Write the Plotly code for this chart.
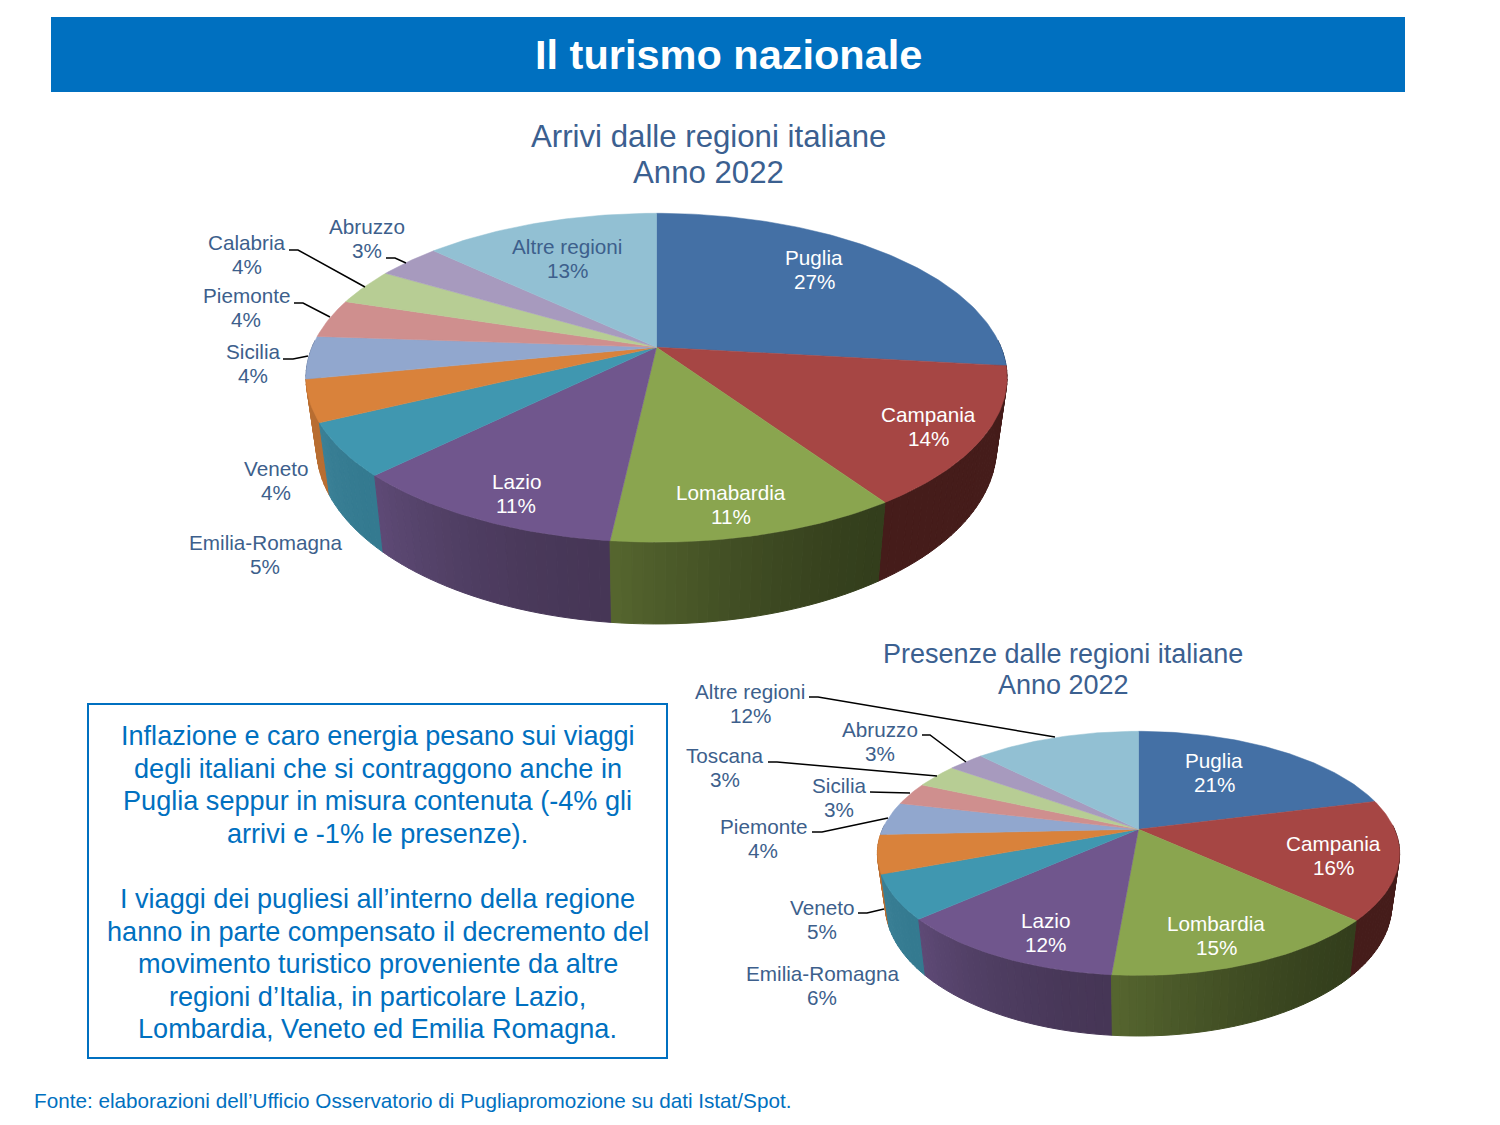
import math
import plotly.graph_objects as go

# ---------- data ----------
arrivi_regions = ["Puglia", "Campania", "Lomabardia", "Lazio", "Emilia-Romagna", "Veneto",
                  "Sicilia", "Piemonte", "Calabria", "Abruzzo", "Altre regioni"]
arrivi_values = [26.8, 13.7, 11.25, 10.85, 5.2, 4.1, 4.2, 3.8, 3.6, 3.49, 13.0]

presenze_regions = ["Puglia", "Campania", "Lombardia", "Lazio", "Emilia-Romagna", "Veneto",
                    "Piemonte", "Sicilia", "Toscana", "Abruzzo", "Altre regioni"]
presenze_values = [21.0, 15.8, 14.55, 12.05, 5.8, 5.1, 4.4, 3.0, 3.2, 2.7, 12.4]

# ---------- styles ----------
TOP_COLORS = ["#4470A5", "#A64644", "#8AA54F", "#70568D", "#4097B0", "#D9823B",
              "#91A7CE", "#CF8F8E", "#B7CD94", "#A79ABE", "#92C0D3"]
SIDE_START = ["#2A4568", "#451C1A", "#333E1C", "#463656", "#347A90", "#B86D31",
              "#6F80A0", "#A06E6E", "#8C9E70", "#807590", "#70949F"]
SIDE_END = ["#2A4568", "#451C1A", "#56662F", "#5E4A76", "#3A8096", "#BC7033",
            "#6F80A0", "#A06E6E", "#8C9E70", "#807590", "#70949F"]
BLUE = "#0070C0"
TITLE_BLUE = "#3B6090"
LABEL_BLUE = "#3D5F8C"
FONT = "Liberation Sans"

# ---------- view geometry of the tilted discs ----------
BASE_X, BASE_Y = 0.97, 1.076
ARRIVI_VIEW = dict(cx=656.5, cy=347.3, a=344.5, b=158.8, k=0.185, off=67.0)
PRESENZE_VIEW = dict(cx=1138.5, cy=829.3, a=256.0, b=117.3, k=0.197, off=49.5)

# label centres (name line), in page pixels
ARRIVI_LABELS = [(814, 257), (928, 414), (731, 492), (516, 481), (265, 542), (276, 468),
                 (253, 351), (246, 295), (247, 242), (367, 226), (567, 246)]
PRESENZE_LABELS = [(1214, 760), (1333, 843), (1216, 923), (1045, 920), (822, 973), (822, 907),
                   (763, 826), (839, 785), (725, 755), (880, 729), (750, 691)]
LABEL_STEP = 24
WHITE_LABELS = {"Puglia", "Campania", "Lomabardia", "Lombardia", "Lazio"}

LEADERS = [
    [(289, 250), (298, 250), (365, 287)],
    [(386, 258), (395, 258), (406, 263)],
    [(294, 303), (303, 303), (330, 317)],
    [(283, 359), (293, 359), (308, 356)],
    [(809, 697), (818, 697), (1055, 737)],
    [(922, 735), (930, 735), (966, 762)],
    [(768, 762), (777, 762), (937, 776)],
    [(870, 792), (910, 793)],
    [(812, 832), (822, 832), (888, 818)],
    [(858, 913), (867, 913), (884, 909)],
]

BODY_LINES = [
    "Inflazione e caro energia pesano sui viaggi",
    "degli italiani che si contraggono anche in",
    "Puglia seppur in misura contenuta (-4% gli",
    "arrivi e -1% le presenze).",
    "",
    "I viaggi dei pugliesi all’interno della regione",
    "hanno in parte compensato il decremento del",
    "movimento turistico proveniente da altre",
    "regioni d’Italia, in particolare Lazio,",
    "Lombardia, Veneto ed Emilia Romagna.",
]


def top_point(theta, view):
    u, v = math.sin(theta), -math.cos(theta)
    d = 1 - view["k"] * v
    return view["a"] * u / d, view["b"] * v / d


def mix(c1, c2, t):
    a = [int(c1[i:i + 2], 16) for i in (1, 3, 5)]
    b = [int(c2[i:i + 2], 16) for i in (1, 3, 5)]
    return "#%02X%02X%02X" % tuple(round(p + (q - p) * t) for p, q in zip(a, b))


fig = go.Figure()


def add_disc(values, view):
    total = sum(values)
    spans, acc = [], 0.0
    for val in values:
        spans.append((acc / total * 2 * math.pi, (acc + val) / total * 2 * math.pi))
        acc += val
    cx, cy = view["cx"], view["cy"]
    # side wall strips, back to front
    strips = []
    for i, (t0, t1) in enumerate(spans):
        n = max(2, int((t1 - t0) / math.radians(1.5)))
        for j in range(n):
            a0 = t0 + (t1 - t0) * j / n
            a1 = t0 + (t1 - t0) * (j + 1) / n
            mid = (a0 + a1) / 2
            if -math.cos(mid) < -0.05:
                continue
            shade = ((j + .5) / n) ** 1.6
            strips.append((-math.cos(mid), a0, a1, mix(SIDE_START[i], SIDE_END[i], shade)))
    strips.sort(key=lambda r: r[0])
    for _, a0, a1, col in strips:
        xs, ys = [], []
        for a in (a0, a1):
            dx, dy = top_point(a, view)
            xs.append(cx + dx)
            ys.append(cy + dy)
        for a in (a1, a0):
            dx, dy = top_point(a, view)
            xs.append(cx + BASE_X * dx)
            ys.append(cy + view["off"] + BASE_Y * dy)
        fig.add_trace(go.Scatter(x=xs + xs[:1], y=ys + ys[:1], mode="lines", fill="toself",
                                 fillcolor=col, line=dict(color=col, width=1),
                                 hoverinfo="skip", showlegend=False))
    # top surface
    for i, (t0, t1) in enumerate(spans):
        n = max(3, int(math.degrees(t1 - t0)))
        xs, ys = [cx], [cy]
        for j in range(n + 1):
            dx, dy = top_point(t0 + (t1 - t0) * j / n, view)
            xs.append(cx + dx)
            ys.append(cy + dy)
        xs.append(cx)
        ys.append(cy)
        fig.add_trace(go.Scatter(x=xs, y=ys, mode="lines", fill="toself",
                                 fillcolor=TOP_COLORS[i], line=dict(color=TOP_COLORS[i], width=0.5),
                                 hoverinfo="skip", showlegend=False))


add_disc(arrivi_values, ARRIVI_VIEW)
add_disc(presenze_values, PRESENZE_VIEW)


def note(x, y, text, size, color, bold=False, anchor="center"):
    fig.add_annotation(x=x, y=y, xref="x", yref="y", text=f"<b>{text}</b>" if bold else text,
                       showarrow=False, xanchor=anchor, yanchor="middle",
                       font=dict(family=FONT, size=size, color=color))


for regions, values, pos in ((arrivi_regions, arrivi_values, ARRIVI_LABELS),
                             (presenze_regions, presenze_values, PRESENZE_LABELS)):
    for name, val, (x, y) in zip(regions, values, pos):
        col = "white" if name in WHITE_LABELS else LABEL_BLUE
        note(x, y, name, 20.7, col)
        note(x, y + LABEL_STEP, f"{round(val)}%", 20.7, col)

shapes = [
    dict(type="rect", xref="x", yref="y", x0=51, x1=1405, y0=17, y1=92,
         fillcolor=BLUE, line=dict(width=0), layer="below"),
    dict(type="rect", xref="x", yref="y", x0=88, x1=667, y0=704, y1=1058,
         fillcolor="rgba(0,0,0,0)", line=dict(color=BLUE, width=2), layer="below"),
]
for pts in LEADERS:
    path = "M " + " L ".join(f"{x},{y}" for x, y in pts)
    shapes.append(dict(type="path", path=path, xref="x", yref="y",
                       line=dict(color="black", width=1.5), layer="above"))

note(728, 54, "Il turismo nazionale", 41.5, "white", bold=True)
note(708, 136, "Arrivi dalle regioni italiane", 31.2, TITLE_BLUE)
note(708, 172, "Anno 2022", 31.2, TITLE_BLUE)
note(1063, 654, "Presenze dalle regioni italiane", 27, TITLE_BLUE)
note(1063, 685, "Anno 2022", 27, TITLE_BLUE)

for i, line in enumerate(BODY_LINES):
    if line:
        note(377.5, 735.5 + i * 32.6, line, 27.1, BLUE)

note(31.5, 1100.5, "Fonte: elaborazioni dell’Ufficio Osservatorio di Pugliapromozione su dati Istat/Spot.",
     20.7, BLUE, anchor="left")

fig.update_layout(
    width=1500, height=1125, margin=dict(l=0, r=0, t=0, b=0),
    paper_bgcolor="white", plot_bgcolor="white", showlegend=False,
    xaxis=dict(range=[0, 1500], visible=False, fixedrange=True),
    yaxis=dict(range=[1125, 0], visible=False, fixedrange=True),
    shapes=shapes,
)
fig.write_html("out.html", config=dict(displayModeBar=False),
               post_script="document.body.style.margin='0';")
